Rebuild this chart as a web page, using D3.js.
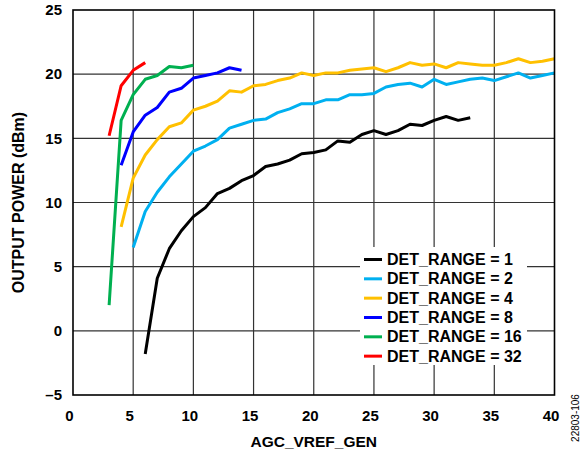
<!DOCTYPE html>
<html><head><meta charset="utf-8">
<script src="https://cdn.jsdelivr.net/npm/d3@7"></script>
<style>body{margin:0;background:#fff;} text{font-family:"Liberation Sans",Arial,sans-serif;}</style>
</head><body><svg id="c" width="585" height="454"></svg>
<script>
const seriesNames = ["DET_RANGE = 1","DET_RANGE = 2","DET_RANGE = 4","DET_RANGE = 8","DET_RANGE = 16","DET_RANGE = 32"];
const seriesColors = ["#000000","#00b0f0","#ffc000","#0000ff","#00b050","#ff0000"];
const xTicks = [0,5,10,15,20,25,30,35,40];
const yTicks = [-5,0,5,10,15,20,25];

const x1 = d3.range(6,34);
const y1 = [-1.8,4.1,6.4,7.8,8.9,9.6,10.7,11.1,11.7,12.1,12.8,13.0,13.3,13.8,13.9,14.1,14.8,14.7,15.3,15.6,15.3,15.6,16.1,16.0,16.4,16.7,16.4,16.6];
const x2 = d3.range(5,41);
const y2 = [6.5,9.3,10.8,12.0,13.0,14.0,14.4,14.9,15.8,16.1,16.4,16.5,17.0,17.3,17.7,17.7,18.0,18.0,18.4,18.4,18.5,19.0,19.2,19.3,19.0,19.6,19.2,19.4,19.6,19.7,19.5,19.8,20.1,19.7,19.9,20.1];
const x4 = d3.range(4,41);
const y4 = [8.1,11.9,13.7,14.9,15.9,16.2,17.2,17.5,17.9,18.7,18.6,19.1,19.2,19.5,19.7,20.1,19.9,20.1,20.1,20.3,20.4,20.5,20.2,20.5,20.9,20.7,20.8,20.5,20.9,20.8,20.7,20.7,20.9,21.2,20.9,21.0,21.2];
const x8 = d3.range(4,15);
const y8 = [12.9,15.5,16.8,17.4,18.6,18.9,19.7,19.9,20.1,20.5,20.3];
const x16 = d3.range(3,11);
const y16 = [2.0,16.4,18.4,19.6,19.9,20.6,20.5,20.7];
const x32 = d3.range(3,7);
const y32 = [15.2,19.1,20.3,20.9];

const seriesX = [x1,x2,x4,x8,x16,x32];
const seriesY = [y1,y2,y4,y8,y16,y32];

const svg = d3.select("#c");
const L=73,R=554.5,T=10,B=395;
const x = d3.scaleLinear().domain([0,40]).range([L,R]);
const y = d3.scaleLinear().domain([-5,25]).range([B,T]);

// grid
const g = svg.append("g");
g.selectAll("line.vx").data(xTicks.slice(1,-1)).join("line")
  .attr("x1",d=>x(d)).attr("x2",d=>x(d)).attr("y1",T).attr("y2",B)
  .attr("stroke","#333").attr("stroke-width",1.2);
g.selectAll("line.hy").data(yTicks.slice(1,-1)).join("line")
  .attr("x1",L).attr("x2",R).attr("y1",d=>y(d)).attr("y2",d=>y(d))
  .attr("stroke","#333").attr("stroke-width",1.2);

// axes labels
const fmt = d => d<0 ? "\u2013"+Math.abs(d) : String(d);
svg.append("g").attr("transform",`translate(-4,${B})`)
  .call(d3.axisBottom(x).tickValues(xTicks).tickSize(0).tickPadding(15).tickFormat(fmt))
  .call(a=>a.select(".domain").remove())
  .selectAll("text").attr("font-size",15).attr("font-weight","bold").attr("fill","#000")
  .style("font-family","'Liberation Sans',Arial,sans-serif");
svg.append("g").attr("transform",`translate(${L},0)`)
  .call(d3.axisLeft(y).tickValues(yTicks).tickSize(0).tickPadding(11).tickFormat(fmt))
  .call(a=>a.select(".domain").remove())
  .selectAll("text").attr("font-size",15).attr("font-weight","bold").attr("fill","#000")
  .style("font-family","'Liberation Sans',Arial,sans-serif");

// lines
const line = d3.line().x(d=>x(d[0])).y(d=>y(d[1]));
seriesX.forEach((xs,i)=>{
  const pts = xs.map((v,j)=>[v,seriesY[i][j]]);
  svg.append("path").datum(pts).attr("d",line).attr("fill","none")
    .attr("stroke",seriesColors[i]).attr("stroke-width",3).attr("stroke-linejoin","round");
});

// frame
svg.append("rect").attr("x",L).attr("y",T).attr("width",R-L).attr("height",B-T)
  .attr("fill","none").attr("stroke","#000").attr("stroke-width",1.6);

// legend
const lg = svg.append("g");
lg.append("rect").attr("x",360).attr("y",247).attr("width",167).attr("height",118).attr("fill","#fff");
seriesNames.forEach((n,i)=>{
  const cy = 259.5 + i*19.33;
  lg.append("line").attr("x1",364).attr("x2",382).attr("y1",cy).attr("y2",cy)
    .attr("stroke",seriesColors[i]).attr("stroke-width",3);
  lg.append("text").attr("x",387).attr("y",cy+5.5).text(n)
    .attr("font-size",16).attr("font-weight","bold");
});

// titles
svg.append("text").attr("x",(L+R)/2).attr("y",447).attr("text-anchor","middle")
  .attr("font-size",15.5).attr("font-weight","bold").text("AGC_VREF_GEN");
svg.append("text").attr("transform",`translate(24,${(T+B)/2}) rotate(-90)`).attr("text-anchor","middle")
  .attr("font-size",16).attr("font-weight","bold").text("OUTPUT POWER (dBm)");
svg.append("text").attr("transform","translate(579,418) rotate(-90)").attr("text-anchor","middle")
  .attr("font-size",10).text("22803-106");
</script></body></html>
